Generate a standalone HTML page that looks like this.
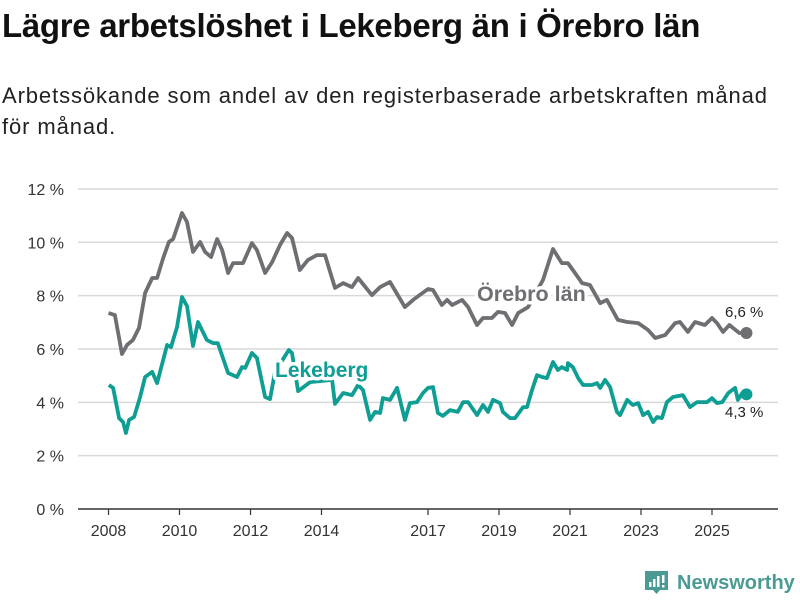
<!DOCTYPE html>
<html><head><meta charset="utf-8">
<style>
body{margin:0;background:#fff;width:800px;height:600px;overflow:hidden;font-family:"Liberation Sans","DejaVu Sans",sans-serif;}
#title{position:absolute;left:2px;top:7px;font-size:33px;font-weight:bold;color:#111;letter-spacing:-0.3px;white-space:nowrap}
#sub{position:absolute;left:2px;top:80px;font-size:22px;letter-spacing:0.9px;color:#222;line-height:31px;width:790px}
svg{position:absolute;left:0;top:0}
</style></head><body>
<div id="title">Lägre arbetslöshet i Lekeberg än i Örebro län</div>
<div id="sub">Arbetssökande som andel av den registerbaserade arbetskraften månad<br>för månad.</div>
<svg id="chart" width="800" height="600"></svg>
<script>
const yTicks=[0,2,4,6,8,10,12];
const xTicks=[2008,2010,2012,2014,2017,2019,2021,2023,2025];
const orebroYears=[2008.0,2008.18,2008.38,2008.52,2008.69,2008.86,2009.03,2009.23,2009.37,2009.54,2009.70,2009.82,2010.07,2010.21,2010.38,2010.58,2010.72,2010.89,2011.06,2011.20,2011.37,2011.51,2011.79,2012.04,2012.18,2012.41,2012.61,2012.83,2013.03,2013.17,2013.39,2013.62,2013.87,2014.10,2014.38,2014.61,2014.86,2015.03,2015.42,2015.65,2015.93,2016.35,2016.58,2017.0,2017.14,2017.39,2017.54,2017.68,2017.96,2018.13,2018.38,2018.55,2018.80,2018.97,2019.17,2019.37,2019.54,2019.82,2020.24,2020.52,2020.77,2020.94,2021.14,2021.34,2021.56,2021.85,2022.04,2022.35,2022.61,2022.92,2023.20,2023.40,2023.68,2023.96,2024.10,2024.32,2024.52,2024.80,2025.00,2025.14,2025.31,2025.49,2025.77,2025.97];
const orebroValues=[7.35,7.27,5.81,6.15,6.34,6.79,8.10,8.66,8.66,9.41,10.01,10.12,11.10,10.76,9.64,10.01,9.64,9.45,10.12,9.71,8.85,9.22,9.22,9.97,9.71,8.85,9.26,9.90,10.35,10.16,8.96,9.34,9.52,9.52,8.29,8.47,8.32,8.66,8.02,8.32,8.51,7.57,7.84,8.25,8.21,7.65,7.84,7.65,7.84,7.57,6.90,7.16,7.16,7.39,7.35,6.90,7.35,7.57,8.59,9.75,9.22,9.22,8.85,8.47,8.40,7.72,7.84,7.09,7.01,6.97,6.71,6.41,6.52,6.97,7.01,6.64,7.01,6.90,7.16,6.97,6.64,6.90,6.60,6.6];
const lekYears=[2008.01,2008.13,2008.30,2008.41,2008.49,2008.58,2008.72,2008.89,2009.03,2009.23,2009.37,2009.65,2009.76,2009.93,2010.07,2010.21,2010.38,2010.52,2010.77,2010.94,2011.08,2011.37,2011.62,2011.76,2011.85,2012.04,2012.18,2012.41,2012.55,2012.69,2013.08,2013.17,2013.34,2013.68,2014.30,2014.38,2014.61,2014.86,2015.03,2015.17,2015.37,2015.51,2015.65,2015.73,2015.93,2016.13,2016.35,2016.49,2016.69,2016.86,2017.0,2017.14,2017.28,2017.42,2017.62,2017.84,2017.99,2018.13,2018.38,2018.55,2018.69,2018.83,2019.03,2019.11,2019.31,2019.45,2019.68,2019.79,2019.93,2020.07,2020.21,2020.35,2020.52,2020.66,2020.77,2020.92,2020.94,2021.08,2021.23,2021.37,2021.62,2021.76,2021.85,2021.99,2022.13,2022.32,2022.41,2022.61,2022.77,2022.92,2023.06,2023.20,2023.34,2023.45,2023.59,2023.73,2023.90,2024.18,2024.38,2024.58,2024.86,2025.0,2025.14,2025.29,2025.46,2025.65,2025.73,2025.85,2025.97];
const lekValues=[4.65,4.54,3.41,3.26,2.85,3.34,3.45,4.20,4.95,5.14,4.72,6.15,6.07,6.82,7.95,7.61,6.11,7.01,6.34,6.22,6.22,5.10,4.95,5.32,5.29,5.85,5.66,4.20,4.12,5.14,5.96,5.85,4.42,4.76,4.84,3.94,4.35,4.27,4.65,4.46,3.34,3.64,3.60,4.16,4.09,4.54,3.34,3.97,4.01,4.35,4.54,4.57,3.60,3.49,3.71,3.64,4.01,4.01,3.52,3.90,3.64,4.09,3.97,3.64,3.41,3.41,3.82,3.82,4.46,5.02,4.95,4.91,5.51,5.21,5.32,5.21,5.47,5.32,4.91,4.65,4.65,4.72,4.54,4.84,4.57,3.64,3.52,4.09,3.90,3.97,3.52,3.64,3.26,3.45,3.41,4.01,4.20,4.27,3.82,4.01,4.01,4.16,3.97,4.01,4.35,4.54,4.09,4.35,4.30];
const lastLabels=["6,6 %","4,3 %"];

const NS="http://www.w3.org/2000/svg";
const svg=document.getElementById('chart');
const xs=y=>108.5+(y-2008)*35.5;
const ys=v=>509-v*26.67;
function mk(t,a,p){const e=document.createElementNS(NS,t);for(const k in a)e.setAttribute(k,a[k]);(p||svg).appendChild(e);return e;}
yTicks.forEach(t=>{
  const g=mk('line',{x1:78,x2:778,y1:ys(t),y2:ys(t),stroke:t===0?'#333':'#d9d9d9','stroke-width':1.5});
  
  
  const l=mk('text',{x:64,y:ys(t)+6,'text-anchor':'end','font-size':16,fill:'#333'});
  l.textContent=t+' %';
  
  
});
xTicks.forEach(t=>{
  const tk=mk('line',{x1:xs(t),x2:xs(t),y1:509,y2:515,stroke:'#333','stroke-width':1.2});
  
  
  const l=mk('text',{x:xs(t),y:536,'text-anchor':'middle','font-size':16,fill:'#333'});
  l.textContent=t;
  
  
});
function line(yrs,vals,color,name){
  const d=yrs.map((y,i)=>(i?'L':'M')+xs(y).toFixed(1)+','+ys(vals[i]).toFixed(1)).join('');
  const p=mk('path',{d:d,fill:'none',stroke:color,'stroke-width':3.8,'stroke-linejoin':'round'});
  
  
  const n=yrs.length-1;
  const c=mk('circle',{cx:xs(yrs[n]),cy:ys(vals[n]),r:6,fill:color});
  
  
}
line(orebroYears,orebroValues,'#6e6e73','orebro');
line(lekYears,lekValues,'#0f9e93','lekeberg');
function lab(x,y,txt,color,name,size,weight){
  const t=mk('text',{x:x,y:y,'font-size':size,'font-weight':weight,fill:color,stroke:'#fff','stroke-width':weight==='bold'?7:4,'paint-order':'stroke','stroke-linejoin':'round'});
  t.textContent=txt;
  
  
}
lab(275,377,'Lekeberg','#0f9e93','lekeberg-label',21,'bold');
lab(477,301,'Örebro län','#6e6e73','orebro-label',21.5,'bold');
lab(725,317,lastLabels[0],'#222','orebro-last-value',15,'normal');
lab(725,417,lastLabels[1],'#222','lekeberg-last-value',15,'normal');
const g=mk('g',{});


mk('path',{d:'M645,571h23v19h-8l-3.5,4l-3.5,-4h-8z',fill:'#4b9a94'},g);
mk('rect',{x:649,y:582,width:2.5,height:5,fill:'#fff'},g);
mk('rect',{x:653,y:579,width:2.5,height:8,fill:'#fff'},g);
mk('rect',{x:657,y:576,width:2.5,height:11,fill:'#fff'},g);
mk('rect',{x:662,y:575,width:2.5,height:8,fill:'#fff'},g);
mk('rect',{x:662,y:585,width:2.5,height:2.5,fill:'#fff'},g);
const lt=mk('text',{x:677,y:589,'font-size':20,'font-weight':'bold',fill:'#4b9a94'},g);
lt.textContent='Newsworthy';


</script>
</body></html>
